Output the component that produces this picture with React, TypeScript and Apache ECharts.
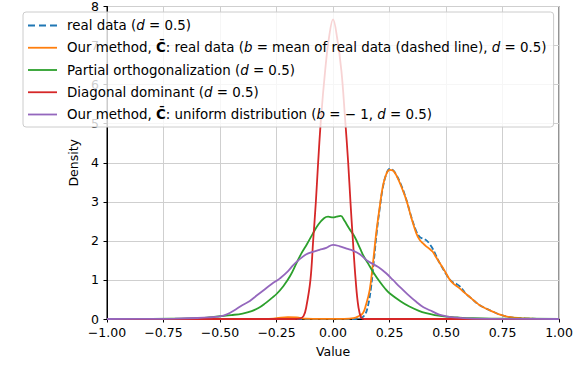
import { useEffect, useRef } from 'react';
import * as echarts from 'echarts';

const seriesNames = ['real', 'ourReal', 'partial', 'diag', 'ourUnif'];
const seriesColors = ['#1f77b4', '#ff7f0e', '#2ca02c', '#d62728', '#9467bd'];
const legendLabels: Record<string, string> = {
  real: '{s| }{n|real data (}{i|d}{n| = 0.5)}',
  ourReal: '{s| }{n|Our method, }{b|C̄}{n|: real data (}{i|b}{n| = mean of real data (dashed line), }{i|d}{n| = 0.5)}',
  partial: '{s| }{n|Partial orthogonalization (}{i|d}{n| = 0.5)}',
  diag: '{s| }{n|Diagonal dominant (}{i|d}{n| = 0.5)}',
  ourUnif: '{s| }{n|Our method, }{b|C̄}{n|: uniform distribution (}{i|b}{n| = − 1, }{i|d}{n| = 0.5)}',
};
const xTicks = [-1, -0.75, -0.5, -0.25, 0, 0.25, 0.5, 0.75, 1];

const realData: [number, number][] = [
  [-1, 0], [0.08, 0], [0.12, 0.02], [0.14, 0.1], [0.155, 0.35], [0.168, 0.8], [0.18, 1.45],
  [0.193, 2.2], [0.207, 2.85], [0.22, 3.35], [0.235, 3.7], [0.25, 3.84], [0.265, 3.81],
  [0.279, 3.7], [0.3, 3.45], [0.324, 3.06], [0.346, 2.62], [0.368, 2.25], [0.383, 2.1],
  [0.397, 2.06], [0.412, 2.02], [0.426, 1.93], [0.441, 1.8], [0.456, 1.62], [0.47, 1.45],
  [0.485, 1.3], [0.5, 1.15], [0.515, 1.02], [0.53, 0.94], [0.545, 0.9], [0.56, 0.84],
  [0.575, 0.74], [0.59, 0.63], [0.605, 0.56], [0.625, 0.46], [0.647, 0.36], [0.676, 0.27],
  [0.706, 0.19], [0.735, 0.12], [0.765, 0.07], [0.8, 0.035], [0.85, 0.015], [0.9, 0.005], [1, 0],
];

const ourRealData: [number, number][] = [
  [-1, 0], [-0.3, 0], [-0.25, 0.02], [-0.2, 0.05], [-0.16, 0.04], [-0.12, 0.01], [-0.05, 0.005],
  [0.05, 0.005], [0.09, 0.02], [0.11, 0.06], [0.132, 0.15], [0.145, 0.35], [0.162, 0.74],
  [0.176, 1.4], [0.191, 2.2], [0.206, 2.85], [0.22, 3.39], [0.235, 3.7], [0.25, 3.82],
  [0.265, 3.8], [0.279, 3.69], [0.3, 3.42], [0.324, 3.05], [0.346, 2.6], [0.368, 2.2],
  [0.383, 2.03], [0.397, 1.94], [0.412, 1.86], [0.426, 1.8], [0.441, 1.72], [0.456, 1.58],
  [0.47, 1.45], [0.485, 1.32], [0.5, 1.17], [0.515, 1.02], [0.53, 0.92], [0.545, 0.85],
  [0.559, 0.79], [0.58, 0.68], [0.603, 0.57], [0.625, 0.46], [0.647, 0.36], [0.676, 0.27],
  [0.706, 0.19], [0.735, 0.12], [0.765, 0.07], [0.8, 0.035], [0.85, 0.015], [0.9, 0.005], [1, 0],
];

const partialData: [number, number][] = [
  [-1, 0.005], [-0.8, 0.005], [-0.7, 0.01], [-0.6, 0.02], [-0.55, 0.04], [-0.5, 0.07],
  [-0.45, 0.1], [-0.4, 0.14], [-0.36, 0.2], [-0.33, 0.28], [-0.3, 0.4], [-0.27, 0.54],
  [-0.25, 0.64], [-0.22, 0.84], [-0.19, 1.1], [-0.16, 1.45], [-0.14, 1.68], [-0.115, 1.92],
  [-0.09, 2.18], [-0.065, 2.42], [-0.04, 2.58], [-0.022, 2.62], [0, 2.6], [0.015, 2.62],
  [0.034, 2.64], [0.05, 2.52], [0.07, 2.33], [0.096, 2.1], [0.12, 1.8], [0.136, 1.6],
  [0.154, 1.43], [0.18, 1.18], [0.206, 0.96], [0.23, 0.78], [0.25, 0.66], [0.3, 0.45],
  [0.338, 0.32], [0.38, 0.21], [0.412, 0.15], [0.45, 0.1], [0.5, 0.06], [0.55, 0.04],
  [0.62, 0.02], [0.7, 0.01], [0.8, 0.008], [1, 0.005],
];

const diagData: [number, number][] = [
  [-1, 0], [-0.3, 0], [-0.17, 0], [-0.147, 0.01], [-0.13, 0.08], [-0.118, 0.32], [-0.1, 1.0],
  [-0.088, 2.0], [-0.076, 3.0], [-0.066, 4.0], [-0.053, 5.15], [-0.035, 6.35], [-0.018, 7.2],
  [0, 7.67], [0.018, 7.2], [0.037, 6.35], [0.053, 5.15], [0.067, 4.0], [0.077, 3.0],
  [0.088, 2.0], [0.1, 1.0], [0.112, 0.32], [0.125, 0.03], [0.14, 0], [0.2, 0], [1, 0],
];

const ourUnifData: [number, number][] = [
  [-1, 0], [-0.8, 0.003], [-0.7, 0.01], [-0.6, 0.025], [-0.55, 0.04], [-0.5, 0.07],
  [-0.47, 0.12], [-0.44, 0.21], [-0.4, 0.36], [-0.368, 0.46], [-0.338, 0.6], [-0.3, 0.77],
  [-0.27, 0.9], [-0.25, 0.98], [-0.235, 1.04], [-0.2, 1.22], [-0.176, 1.38], [-0.15, 1.52],
  [-0.12, 1.65], [-0.09, 1.72], [-0.06, 1.77], [-0.03, 1.82], [0, 1.9], [0.03, 1.86],
  [0.06, 1.8], [0.088, 1.75], [0.12, 1.65], [0.15, 1.5], [0.2, 1.33], [0.235, 1.17],
  [0.265, 1.0], [0.294, 0.83], [0.33, 0.63], [0.368, 0.44], [0.4, 0.3], [0.441, 0.19],
  [0.47, 0.11], [0.5, 0.07], [0.55, 0.035], [0.6, 0.015], [0.7, 0.005], [1, 0],
];

const allData = [realData, ourRealData, partialData, diagData, ourUnifData];

const FONT = 'DejaVu Sans';
const FS = 12.5;
const LFS = 13.4;
const DASH_ICON = 'path://M0,0H7V1.8H0Z M11,0H18V1.8H11Z M22,0H29V1.8H22Z';
const SOLID_ICON = 'path://M0,0H29V1.8H0Z';

export default function App() {
  const ref = useRef<HTMLDivElement>(null);
  useEffect(() => {
    document.body.style.margin = '0';
    const chart = echarts.init(ref.current!, null, { renderer: 'svg' });
    const baseText = { fontFamily: FONT, fontSize: LFS, color: '#000', lineHeight: 15 };
    chart.setOption({
      animation: false,
      backgroundColor: '#fff',
      textStyle: { fontFamily: FONT },
      grid: {
        left: 107, right: 16, top: 6, bottom: 69,
        show: true, borderColor: '#000', borderWidth: 1, backgroundColor: 'transparent',
      },
      legend: {
        orient: 'vertical',
        left: 23,
        top: 12,
        padding: [6, 7, 5, 5],
        itemGap: 7.25,
        itemWidth: 29,
        itemHeight: 1.8,
        backgroundColor: 'rgba(255,255,255,0.8)',
        borderColor: '#cccccc',
        borderWidth: 1,
        borderRadius: 3,
        data: seriesNames.map((n, idx) => ({ name: n, icon: idx === 0 ? DASH_ICON : SOLID_ICON })),
        formatter: (name: string) => legendLabels[name],
        textStyle: {
          ...baseText,
          rich: {
            s: { ...baseText, width: 5 },
            n: { ...baseText },
            i: { ...baseText, fontStyle: 'italic' },
            b: { ...baseText, fontWeight: 'bold' },
          },
        },
      },
      xAxis: {
        type: 'value',
        min: -1,
        max: 1,
        interval: 0.25,
        name: 'Value',
        nameLocation: 'middle',
        nameGap: 26,
        nameTextStyle: { fontFamily: FONT, fontSize: FS, color: '#000' },
        axisLine: { show: true, onZero: false, lineStyle: { color: '#000', width: 1 } },
        axisTick: { show: true, inside: false, length: 3.5, lineStyle: { color: '#000' } },
        axisLabel: {
          margin: 7,
          fontFamily: FONT, fontSize: FS, color: '#000',
          formatter: (v: number) => (xTicks.includes(v) ? v.toFixed(2).replace('-', '−') : ''),
        },
        splitLine: { show: true, lineStyle: { color: '#cfcfcf', width: 1 } },
      },
      yAxis: {
        type: 'value',
        min: 0,
        max: 8,
        interval: 1,
        name: 'Density',
        nameLocation: 'middle',
        nameGap: 26,
        nameTextStyle: { fontFamily: FONT, fontSize: FS, color: '#000' },
        axisLine: { show: true, onZero: false, lineStyle: { color: '#000', width: 1 } },
        axisTick: { show: true, inside: false, length: 3.5, lineStyle: { color: '#000' } },
        axisLabel: { margin: 8, fontFamily: FONT, fontSize: FS, color: '#000' },
        splitLine: { show: true, lineStyle: { color: '#cfcfcf', width: 1 } },
      },
      series: seriesNames.map((n, idx) => ({
        name: n,
        type: 'line',
        data: allData[idx],
        showSymbol: false,
        symbol: 'none',
        smooth: 0.4,
        color: seriesColors[idx],
        lineStyle: {
          color: seriesColors[idx],
          width: 1.8,
          type: idx === 0 ? [5.5, 2.4] : 'solid',
        },
        z: 2 + idx * 0.01,
      })),
    });
    return () => chart.dispose();
  }, []);
  return <div ref={ref} style={{ width: 576, height: 388 }} />;
}
